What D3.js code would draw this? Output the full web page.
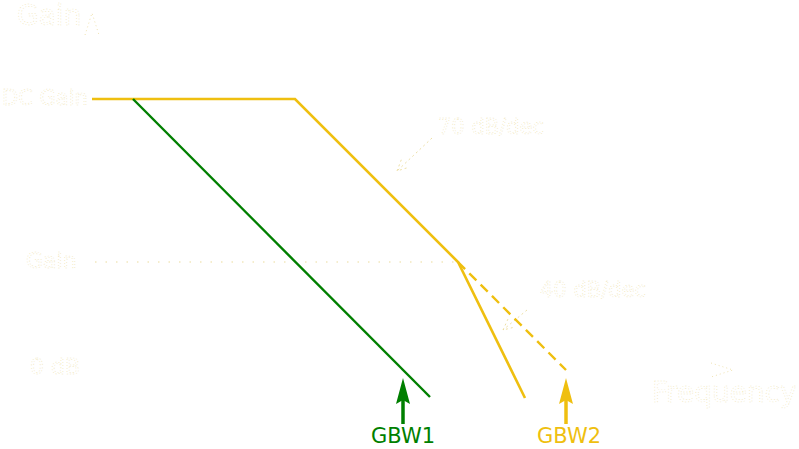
<!DOCTYPE html>
<html>
<head>
<meta charset="utf-8">
<script src="https://cdn.jsdelivr.net/npm/d3@7"></script>
<style>
  html, body { margin: 0; padding: 0; background: #fff; }
  svg { display: block; font-family: "DejaVu Sans", Verdana, sans-serif; }
</style>
</head>
<body>
<svg id="chart"></svg>
<script>
// Open-loop gain asymptotes (x = decades from the axis origin, y = dB)
const orangeGain = [[0, 54.2], [2.03, 54.2], [3.66, 21.6], [4.33, -5.6]];
const orangeDashed = [[3.66, 21.6], [4.74, 0]];
const greenGain = [[0.41, 54.2], [3.38, -5.4]];

// Gain bandwidth markers
const gbwLabels = ["GBW1", "GBW2"];
const gbwFreqs = [3.11, 4.74];
const gbwColors = ["#007f00", "#efbf10"];

// Level labels on the gain axis
const levelLabels = ["DC Gain", "Gain", "0 dB"];
const levelValues = [54.2, 21.6, 0];

const width = 799;
const height = 449;

const svg = d3.select("#chart").attr("width", width).attr("height", height);

const x = d3.scaleLinear().domain([0, 6.41]).range([92, 733]);
const y = d3.scaleLinear().domain([0, 54.2]).range([370, 99]);

const line = d3.line().x((d) => x(d[0])).y((d) => y(d[1]));

// faint "white" ink: white fill with a thin cream edge, like the reference
const ghostEdge = "#ebdb9c";

// ---- Axes (white on white) ----
const axes = svg.append("g");
axes.append("line")
  .attr("x1", x(0)).attr("y1", y(0))
  .attr("x2", x(0)).attr("y2", 16)
  .attr("stroke", "#fff").attr("stroke-width", 2);
axes.append("line")
  .attr("x1", x(0)).attr("y1", y(0))
  .attr("x2", x(6.41)).attr("y2", y(0))
  .attr("stroke", "#fff").attr("stroke-width", 2);

// arrowheads (open chevrons)
axes.append("path")
  .attr("d", `M${x(0) - 7},35 L${x(0)},13 L${x(0) + 7},35`)
  .attr("fill", "none").attr("stroke", ghostEdge)
  .attr("stroke-width", 0.8).attr("stroke-dasharray", "1,3");
axes.append("path")
  .attr("d", `M${x(6.41) - 22},${y(0) - 7} L${x(6.41)},${y(0)} L${x(6.41) - 22},${y(0) + 7}`)
  .attr("fill", "none").attr("stroke", ghostEdge)
  .attr("stroke-width", 0.8).attr("stroke-dasharray", "1,3");

// dotted guide at the closed-loop gain level
svg.append("line")
  .attr("x1", x(0) + 3).attr("y1", y(levelValues[1]))
  .attr("x2", x(3.63)).attr("y2", y(levelValues[1]))
  .attr("stroke", ghostEdge).attr("stroke-width", 1.2)
  .attr("stroke-dasharray", "1.5,9");

// ---- Texts (white) ----
const ghostText = (sel) =>
  sel.attr("fill", "#fff")
    .attr("stroke", ghostEdge)
    .attr("stroke-width", 0.45)
    .attr("stroke-dasharray", "1,2");

ghostText(svg.append("text").attr("x", 17).attr("y", 25)
  .attr("font-size", 28).text("Gain"));

ghostText(svg.append("text").attr("x", 2).attr("y", y(levelValues[0]) + 6)
  .attr("font-size", 21).text(levelLabels[0]));
ghostText(svg.append("text").attr("x", 26).attr("y", y(levelValues[1]) + 6)
  .attr("font-size", 22).text(levelLabels[1]));
ghostText(svg.append("text").attr("x", 30).attr("y", y(levelValues[2]) + 4)
  .attr("font-size", 22).text(levelLabels[2]));

ghostText(svg.append("text").attr("x", 438).attr("y", 134)
  .attr("font-size", 21).text("70 dB/dec"));
ghostText(svg.append("text").attr("x", 540).attr("y", 297)
  .attr("font-size", 21).text("40 dB/dec"));
ghostText(svg.append("text").attr("x", 652).attr("y", 402)
  .attr("font-size", 28).text("Frequency"));

// slope pointer arrows
[[432, 138, 397, 171], [527, 310, 503, 330]].forEach(([x1, y1, x2, y2]) => {
  const a = Math.atan2(y2 - y1, x2 - x1);
  const h = 12;
  svg.append("path")
    .attr("d", `M${x1},${y1} L${x2},${y2}
      M${x2 - h * Math.cos(a - 0.45)},${y2 - h * Math.sin(a - 0.45)} L${x2},${y2}
      L${x2 - h * Math.cos(a + 0.45)},${y2 - h * Math.sin(a + 0.45)}`)
    .attr("fill", "none").attr("stroke", ghostEdge)
    .attr("stroke-width", 0.9).attr("stroke-dasharray", "2,3");
});

// ---- Gain curves ----
svg.append("path").datum(orangeDashed).attr("d", line)
  .attr("fill", "none").attr("stroke", gbwColors[1])
  .attr("stroke-width", 2.4).attr("stroke-dasharray", "10,6");
svg.append("path").datum(orangeGain).attr("d", line)
  .attr("fill", "none").attr("stroke", gbwColors[1])
  .attr("stroke-width", 2.6);
svg.append("path").datum(greenGain).attr("d", line)
  .attr("fill", "none").attr("stroke", gbwColors[0])
  .attr("stroke-width", 2.4);

// ---- GBW markers ----
const gbw = svg.append("g").selectAll("g")
  .data(gbwLabels.map((label, i) => ({ label, f: gbwFreqs[i], color: gbwColors[i] })))
  .join("g");

gbw.append("line")
  .attr("x1", (d) => x(d.f)).attr("x2", (d) => x(d.f))
  .attr("y1", 398).attr("y2", 424)
  .attr("stroke", (d) => d.color).attr("stroke-width", 3.5);
gbw.append("path")
  .attr("d", (d) => `M${x(d.f)},378 L${x(d.f) + 7},404 L${x(d.f)},400 L${x(d.f) - 7},404 Z`)
  .attr("fill", (d) => d.color);
gbw.append("text")
  .attr("x", (d) => x(d.f) + (d.label === "GBW2" ? 3 : 0))
  .attr("y", 443)
  .attr("text-anchor", "middle")
  .attr("font-size", 21)
  .attr("fill", (d) => d.color)
  .text((d) => d.label);
</script>
</body>
</html>
